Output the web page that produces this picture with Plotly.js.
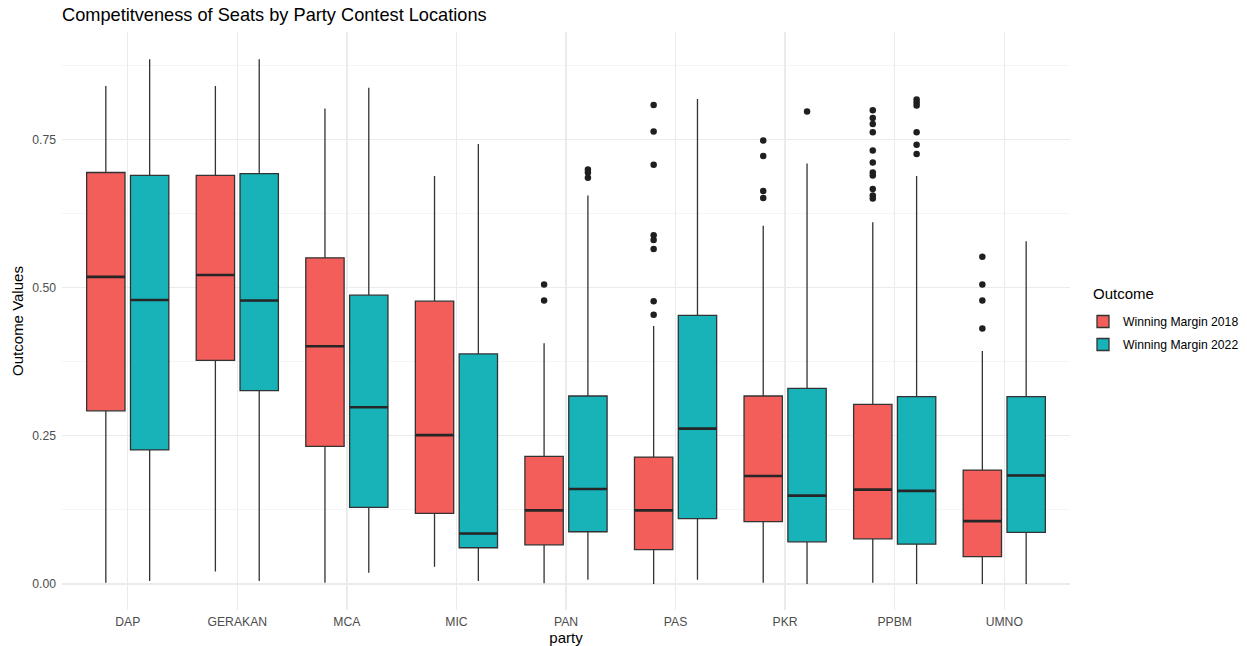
<!DOCTYPE html>
<html>
<head>
<meta charset="utf-8">
<script src="https://cdn.plot.ly/plotly-3.0.1.min.js"></script>
<style>html,body{margin:0;padding:0;background:#fff;}#chart{width:1247px;height:646px;}</style>
</head>
<body>
<div id="chart"></div>
<script>
// ---- data ----
const parties = ["DAP","GERAKAN","MCA","MIC","PAN","PAS","PKR","PPBM","UMNO"];

// Winning Margin 2018
const lower2018  = [0.002, 0.021, 0.002, 0.029, 0.001, 0.000, 0.002, 0.002, 0.000];
const q1_2018    = [0.292, 0.377, 0.232, 0.119, 0.066, 0.058, 0.105, 0.076, 0.046];
const median2018 = [0.518, 0.521, 0.401, 0.251, 0.124, 0.124, 0.182, 0.159, 0.106];
const q3_2018    = [0.694, 0.689, 0.550, 0.477, 0.215, 0.214, 0.317, 0.303, 0.192];
const upper2018  = [0.840, 0.840, 0.802, 0.688, 0.406, 0.435, 0.604, 0.610, 0.393];

// Winning Margin 2022
const lower2022  = [0.005, 0.005, 0.019, 0.005, 0.007, 0.007, 0.000, 0.000, 0.000];
const q1_2022    = [0.226, 0.326, 0.129, 0.061, 0.088, 0.110, 0.071, 0.067, 0.087];
const median2022 = [0.479, 0.478, 0.298, 0.085, 0.160, 0.262, 0.149, 0.157, 0.183];
const q3_2022    = [0.689, 0.692, 0.487, 0.388, 0.317, 0.453, 0.330, 0.316, 0.316];
const upper2022  = [0.885, 0.885, 0.837, 0.742, 0.655, 0.818, 0.709, 0.688, 0.578];

// Outliers (party, value)
const outlierParty2018 = ["PAN","PAN",
  "PAS","PAS","PAS","PAS","PAS","PAS","PAS","PAS",
  "PKR","PKR","PKR","PKR",
  "PPBM","PPBM","PPBM","PPBM","PPBM","PPBM","PPBM","PPBM","PPBM","PPBM","PPBM",
  "UMNO","UMNO","UMNO","UMNO"];
const outlierValue2018 = [0.505, 0.478,
  0.808, 0.763, 0.707, 0.588, 0.580, 0.565, 0.477, 0.454,
  0.748, 0.722, 0.663, 0.651,
  0.799, 0.786, 0.776, 0.762, 0.731, 0.711, 0.694, 0.689, 0.666, 0.655, 0.650,
  0.552, 0.505, 0.478, 0.431];
const outlierParty2022 = ["PAN","PAN","PAN","PKR","PPBM","PPBM","PPBM","PPBM","PPBM","PPBM"];
const outlierValue2022 = [0.699, 0.694, 0.685, 0.797, 0.817, 0.812, 0.807, 0.762, 0.741, 0.725];

const seriesNames = ["Winning Margin 2018","Winning Margin 2022"];
const colors = ["#F35E5A","#17B3B8"];

// ---- build traces ----
const offset = 0.2, boxW = 0.35;
const posOf = (p, s) => parties.indexOf(p) + 1 + (s === 0 ? -offset : offset);
const series = [
  {lower: lower2018, q1: q1_2018, med: median2018, q3: q3_2018, upper: upper2018, op: outlierParty2018, ov: outlierValue2018},
  {lower: lower2022, q1: q1_2022, med: median2022, q3: q3_2022, upper: upper2022, op: outlierParty2022, ov: outlierValue2022}
];
const traces = [];
series.forEach((d, s) => {
  const xs = parties.map(p => posOf(p, s));
  traces.push({
    type: "box", name: seriesNames[s], x: xs, legendgroup: "g" + s,
    q1: d.q1, median: d.med, q3: d.q3, lowerfence: d.lower, upperfence: d.upper,
    width: boxW, boxpoints: false, whiskerwidth: 0,
    fillcolor: colors[s], line: {color: "#333333", width: 1.3},
    hoverinfo: "skip"
  });
});
series.forEach((d, s) => {
  // thick median lines
  const mx = [], my = [];
  parties.forEach((p, i) => {
    const c = posOf(p, s);
    mx.push(c - boxW / 2, c + boxW / 2, null);
    my.push(d.med[i], d.med[i], null);
  });
  traces.push({type: "scatter", mode: "lines", x: mx, y: my, showlegend: false,
    line: {color: "#262626", width: 2.6}, hoverinfo: "skip"});
  traces.push({type: "scatter", mode: "markers", x: d.op.map(p => posOf(p, s)), y: d.ov,
    showlegend: false, marker: {color: "#1f1f1f", size: 6.5}, hoverinfo: "skip"});
});

const font = "'Liberation Sans', Arial, Helvetica, sans-serif";
const layout = {
  width: 1247, height: 646,
  margin: {l: 62, r: 177, t: 32, b: 36},
  paper_bgcolor: "#ffffff", plot_bgcolor: "#ffffff",
  font: {family: font, color: "#000"},
  boxmode: "overlay",
  title: {text: "Competitveness of Seats by Party Contest Locations",
    x: 62 / 1247, xanchor: "left", xref: "container",
    y: 1 - 15 / 646, yanchor: "middle", yref: "container",
    font: {family: font, size: 18.2, color: "#000"}},
  xaxis: {
    range: [0.4, 9.6], tickmode: "array",
    tickvals: parties.map((p, i) => i + 1), ticktext: parties,
    showgrid: true, gridcolor: "#ebebeb", gridwidth: 1.3,
    zeroline: false, showline: false, ticks: "", ticklabelstandoff: 3,
    tickfont: {family: font, size: 12.2, color: "#4d4d4d"},
    title: {text: "party", font: {family: font, size: 15, color: "#000"}, standoff: 10},
    automargin: false
  },
  yaxis: {
    range: [-0.044, 0.931], tickmode: "array",
    tickvals: [0, 0.25, 0.5, 0.75], ticktext: ["0.00","0.25","0.50","0.75"],
    showgrid: true, gridcolor: "#ebebeb", gridwidth: 1.3,
    minor: {dtick: 0.125, tick0: 0, showgrid: true, gridcolor: "#f2f2f2", gridwidth: 0.8, ticks: ""},
    zeroline: false, showline: false, ticks: "", ticklabelstandoff: 5,
    tickfont: {family: font, size: 12.2, color: "#4d4d4d"},
    title: {text: "Outcome Values", font: {family: font, size: 15, color: "#000"}, standoff: 5},
    automargin: false
  },
  legend: {
    xref: "container", yref: "container",
    x: 1083 / 1247, xanchor: "left", y: 1 - 333 / 646, yanchor: "middle",
    font: {family: font, size: 12.2, color: "#000"},
    tracegroupgap: 4,
    bgcolor: "rgba(0,0,0,0)"
  },
  annotations: [{
    text: "Outcome", xref: "paper", yref: "paper", showarrow: false,
    x: (1091 - 62) / 1008, xanchor: "left", y: (610 - 294) / 578, yanchor: "middle",
    font: {family: font, size: 15, color: "#000"}
  }],
  showlegend: true
};

Plotly.newPlot("chart", traces, layout, {displayModeBar: false, staticPlot: true});
</script>
</body>
</html>
